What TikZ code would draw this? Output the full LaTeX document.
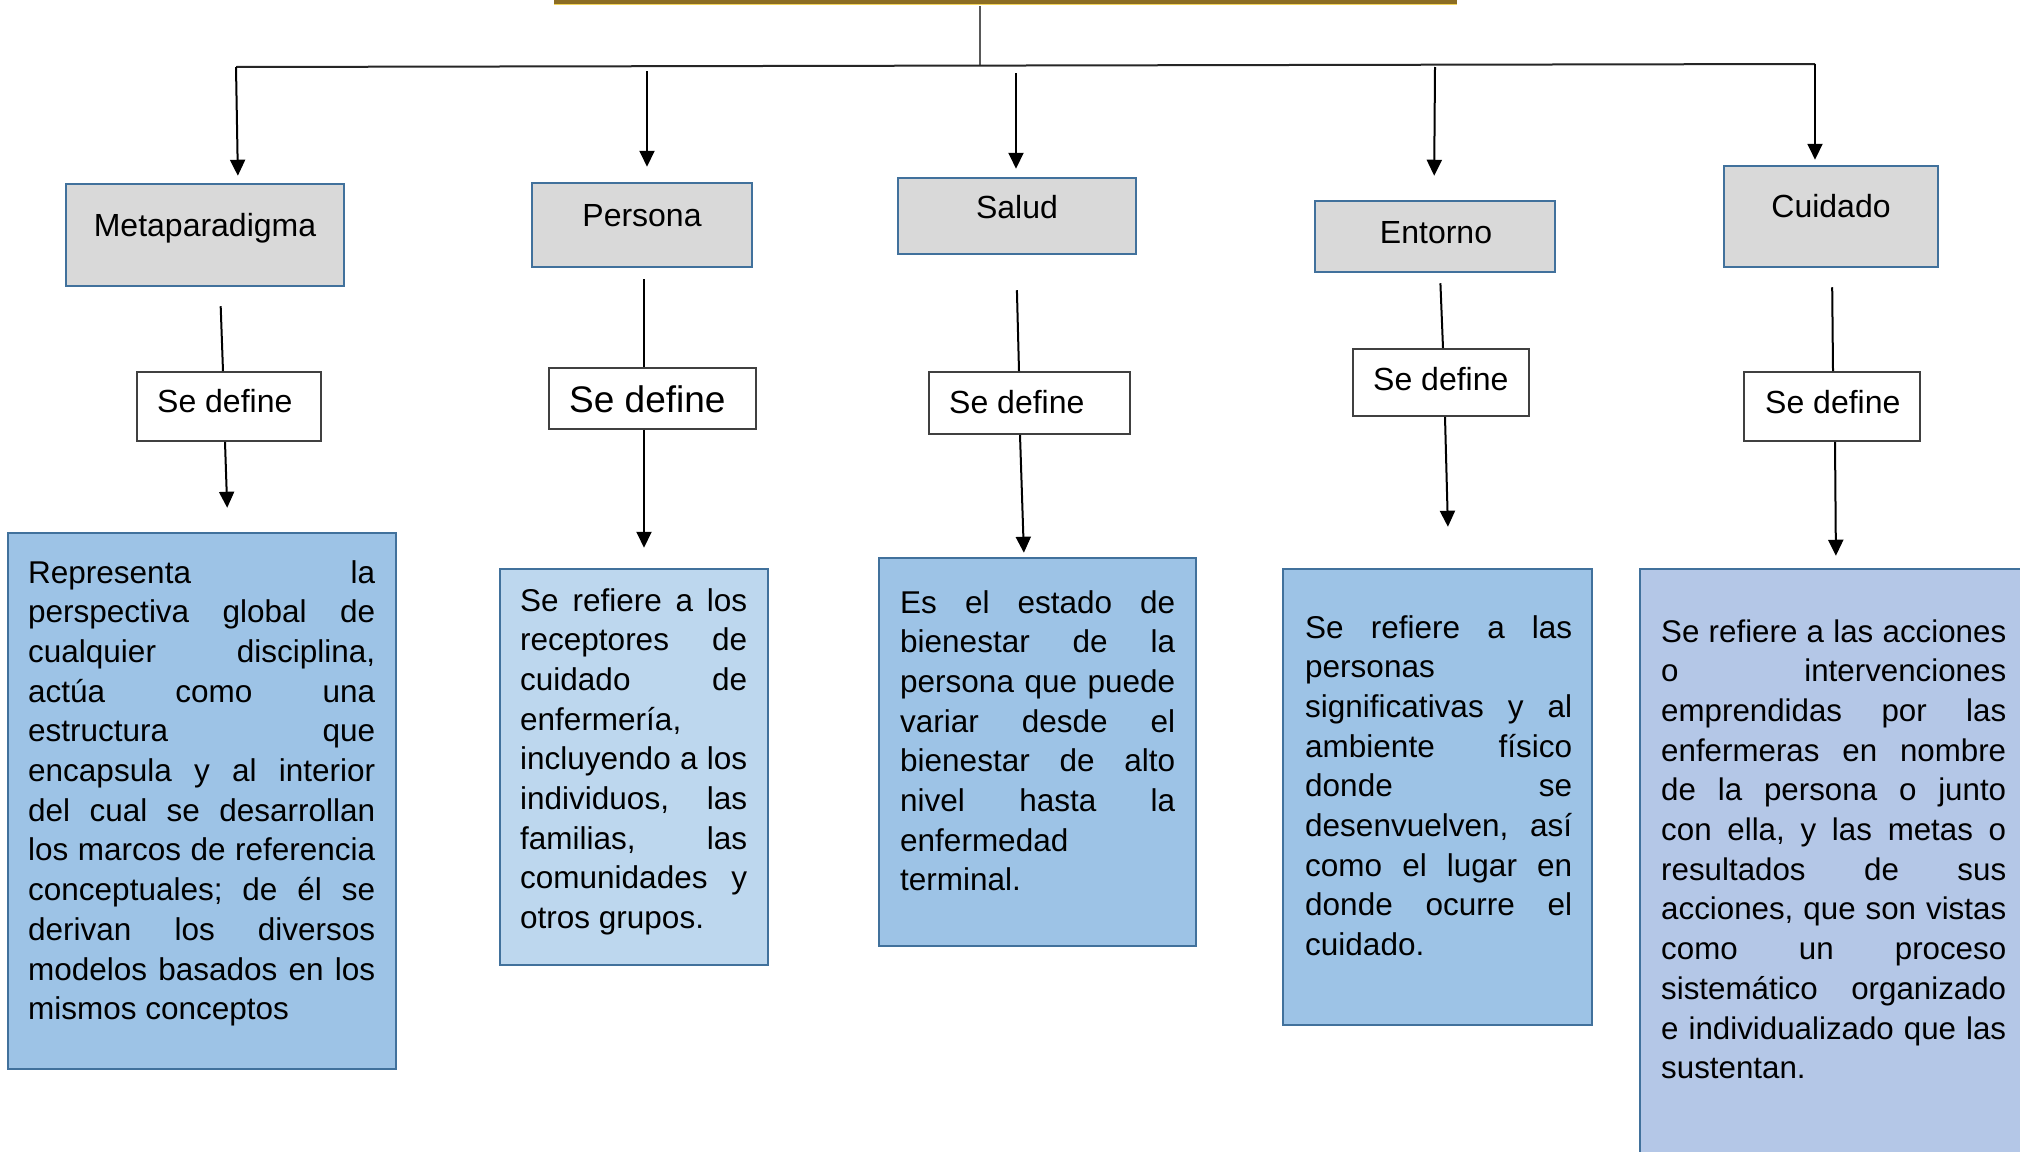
\documentclass[tikz,border=0pt]{standalone}
\usepackage{fontspec}
\setmainfont{Liberation Sans}
\usetikzlibrary{arrows.meta,calc}
\definecolor{bordblue}{HTML}{41719C}
\definecolor{greyfill}{HTML}{D9D9D9}
\definecolor{bluefill}{HTML}{9DC3E6}
\definecolor{lightfill}{HTML}{BDD7EE}
\definecolor{lavfill}{HTML}{B4C7E7}
\definecolor{goldbar}{HTML}{8C6D23}
\definecolor{goldedge}{HTML}{F2D35B}
\newcommand\jl[1]{\hbox to \hsize{\spaceskip=0.278em plus 1fill\relax#1\hfil}}
\newcommand\fl[1]{\hbox to \hsize{#1\hfil}}
\tikzset{
  catbox/.style={draw=bordblue, line width=2.5pt, fill=greyfill, inner sep=0pt},
  defbox/.style={draw=black!75, line width=1.8pt, fill=white, inner sep=0pt},
  descbox/.style={draw=bordblue, line width=2.5pt, inner sep=0pt},
  lbl/.style={font=\fontsize{32}{38}\selectfont, inner sep=0pt, anchor=base},
  deflbl/.style={font=\fontsize{32}{38}\selectfont, inner sep=0pt, anchor=base west},
  desctext/.style={font=\fontsize{31.5}{39.7}\selectfont\frenchspacing, inner sep=0pt, anchor=base west},
  ln/.style={line width=2pt, black},
  arr/.style={ln, -{Triangle[length=16pt,width=15pt]}}
}
\begin{document}
\begin{tikzpicture}[x=1pt,y=-1pt]
\useasboundingbox (0,0) rectangle (2020,1151);
\fill[white] (0,0) rectangle (2020,1151);
% title bar
\node[fill=goldbar, minimum width=903pt, minimum height=24pt, inner sep=0pt] (title) at (1005.5,-8) {};
\draw[goldedge, line width=1.5pt] (title.south west) ++(0,0.5) -- ([yshift=-0.5pt]title.south east);
\coordinate (hub) at (980,65);
\draw[line width=2pt, black!65] (980,6) -- (hub);
\draw[line width=2pt, black!85] (236,67) -- (1815,64);
% category boxes
\node[catbox, minimum width=278pt, minimum height=102pt] (meta) at (205,235) {};
\node[catbox, minimum width=220pt, minimum height=84pt] (pers) at (642,225) {};
\node[catbox, minimum width=238pt, minimum height=76pt] (salud) at (1017,216) {};
\node[catbox, minimum width=240pt, minimum height=71pt] (ent) at (1435,236.5) {};
\node[catbox, minimum width=214pt, minimum height=101pt] (cuid) at (1831,216.5) {};
\node[lbl] (tmeta) at (205,236) {Metaparadigma};
\node[lbl] (tpers) at (642,226) {Persona};
\node[lbl] (tsalud) at (1017,218) {Salud};
\node[lbl] (tent) at (1436,243) {Entorno};
\node[lbl] (tcuid) at (1831,217) {Cuidado};
% top arrows
\draw[arr, shorten >=7pt] (236,67) -- (238,0 |- meta.north);
\draw[arr, shorten >=15pt] (647,71) -- (647,0 |- pers.north);
\draw[arr, shorten >=8pt] (1016,73) -- (1016,0 |- salud.north);
\draw[arr, shorten >=24pt] (1435,67) -- (1434,0 |- ent.north);
\draw[arr, shorten >=5pt] (1815,64) -- (1815,0 |- cuid.north);
% se define boxes
\node[defbox, minimum width=184pt, minimum height=69pt] (s1) at (229,406.5) {};
\node[defbox, minimum width=207pt, minimum height=61pt] (s2) at (652.5,398.5) {};
\node[defbox, minimum width=201pt, minimum height=62pt] (s3) at (1029.5,403) {};
\node[defbox, minimum width=176pt, minimum height=67pt] (s4) at (1441,382.5) {};
\node[defbox, minimum width=176pt, minimum height=69pt] (s5) at (1832,406.5) {};
\node[deflbl] (ts1) at (157,412) {Se define};
\node[deflbl, font=\fontsize{37}{44}\selectfont] (ts2) at (569,412) {Se define};
\node[deflbl] (ts3) at (949,413.5) {Se define};
\node[deflbl] (ts4) at (1373,390.5) {Se define};
\node[deflbl] (ts5) at (1765,413.5) {Se define};
% lines from categories
\draw[ln, shorten <=19pt] (220,0 |- meta.south) -- (223,0 |- s1.north);
\draw[ln, shorten <=11pt] (644,0 |- pers.south) -- (644,0 |- s2.north);
\draw[ln, shorten <=35pt] (1016,0 |- salud.south) -- (1019,0 |- s3.north);
\draw[ln, shorten <=10pt] (1440,0 |- ent.south) -- (1443,0 |- s4.north);
\draw[ln, shorten <=19pt] (1832,0 |- cuid.south) -- (1833,0 |- s5.north);
% description boxes
\node[descbox, fill=bluefill, minimum width=388pt, minimum height=536pt] (d1) at (202,801) {};
\node[descbox, fill=lightfill, minimum width=268pt, minimum height=396pt] (d2) at (634,767) {};
\node[descbox, fill=bluefill, minimum width=317pt, minimum height=388pt] (d3) at (1037.5,752) {};
\node[descbox, fill=bluefill, minimum width=309pt, minimum height=456pt] (d4) at (1437.5,797) {};
\node[descbox, fill=lavfill, minimum width=400pt, minimum height=601pt] (d5) at (1840,869.5) {};
% arrows to descriptions
\draw[arr, shorten >=24pt] (225,0 |- s1.south) -- (228,0 |- d1.north);
\draw[arr, shorten >=20pt] (644,0 |- s2.south) -- (644,0 |- d2.north);
\draw[arr, shorten >=4pt] (1020,0 |- s3.south) -- (1024,0 |- d3.north);
\draw[arr, shorten >=41pt] (1445,0 |- s4.south) -- (1449,0 |- d4.north);
\draw[arr, shorten >=12pt] (1835,0 |- s5.south) -- (1836,0 |- d5.north);
% description texts
\node[desctext] (x1) at (28,583) {\vtop{\hsize=347pt
\jl{Representa la}
\jl{perspectiva global de}
\jl{cualquier disciplina,}
\jl{actúa como una}
\jl{estructura que}
\jl{encapsula y al interior}
\jl{del cual se desarrollan}
\jl{los marcos de referencia}
\jl{conceptuales; de él se}
\jl{derivan los diversos}
\jl{modelos basados en los}
\fl{mismos conceptos}}};
\node[desctext] (x2) at (520,611) {\vtop{\hsize=227pt
\jl{Se refiere a los}
\jl{receptores de}
\jl{cuidado de}
\jl{enfermería,}
\jl{incluyendo a los}
\jl{individuos, las}
\jl{familias, las}
\jl{comunidades y}
\fl{otros grupos.}}};
\node[desctext] (x3) at (900,613) {\vtop{\hsize=275pt
\jl{Es el estado de}
\jl{bienestar de la}
\jl{persona que puede}
\jl{variar desde el}
\jl{bienestar de alto}
\jl{nivel hasta la}
\jl{enfermedad}
\fl{terminal.}}};
\node[desctext] (x4) at (1305,638) {\vtop{\hsize=267pt
\jl{Se refiere a las}
\jl{personas}
\jl{significativas y al}
\jl{ambiente físico}
\jl{donde se}
\jl{desenvuelven, así}
\jl{como el lugar en}
\jl{donde ocurre el}
\fl{cuidado.}}};
\node[desctext, font=\fontsize{31.3}{39.7}\selectfont\frenchspacing] (x5) at (1661,642) {\vtop{\hsize=345pt
\jl{Se refiere a las acciones}
\jl{o intervenciones}
\jl{emprendidas por las}
\jl{enfermeras en nombre}
\jl{de la persona o junto}
\jl{con ella, y las metas o}
\jl{resultados de sus}
\jl{acciones, que son vistas}
\jl{como un proceso}
\jl{sistemático organizado}
\jl{e individualizado que las}
\fl{sustentan.}}};
\end{tikzpicture}
\end{document}
